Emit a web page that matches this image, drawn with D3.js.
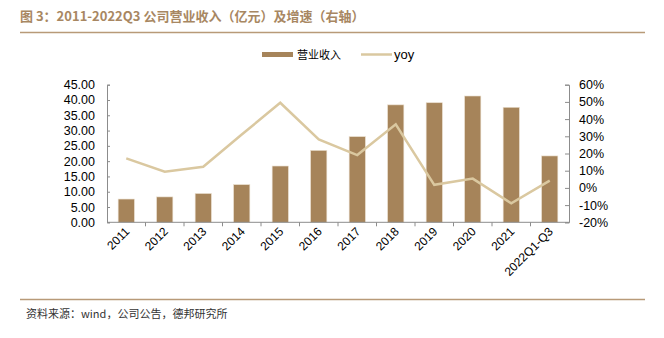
<!DOCTYPE html>
<html><head><meta charset="utf-8">
<script src="https://cdn.jsdelivr.net/npm/d3@7"></script>
<style>body{margin:0;background:#fff}svg{display:block}</style>
</head><body>
<svg id="c" width="664" height="338"></svg>
<script>
const categories = ["2011","2012","2013","2014","2015","2016","2017","2018","2019","2020","2021","2022Q1-Q3"];
const revenue = [7.6, 8.3, 9.4, 12.3, 18.4, 23.5, 28.0, 38.4, 39.1, 41.3, 37.6, 21.7];
const yoy = [17.2, 9.4, 12.3, 31.0, 49.5, 28.2, 19.1, 37.0, 1.8, 5.4, -9.0, 4.2];
const leftTicks = [0,5,10,15,20,25,30,35,40,45];
const rightTicks = [-20,-10,0,10,20,30,40,50,60];

const svg = d3.select("#c");
const font = "'Liberation Sans', Arial, sans-serif";
const cjk = "'Noto Sans CJK SC', sans-serif";
const barColor = "#a6845a", lineColor = "#dac8a0", brown = "#a88762";

// title
svg.append("text").attr("x",20).attr("y",21).attr("font-family",cjk).attr("font-weight","bold")
  .attr("font-size",13).attr("fill",brown).text("图 3：2011-2022Q3 公司营业收入（亿元）及增速（右轴）");
svg.append("line").attr("x1",20).attr("x2",645).attr("y1",32.5).attr("y2",32.5).attr("stroke","#b89a78").attr("stroke-width",1.5);
svg.append("line").attr("x1",20).attr("x2",645).attr("y1",299.5).attr("y2",299.5).attr("stroke","#b89a78").attr("stroke-width",1.5);
svg.append("text").attr("x",26).attr("y",318).attr("font-family",cjk).attr("font-size",11).attr("fill","#333")
  .text("资料来源：wind，公司公告，德邦研究所");

const L = 107, R = 569, T = 84.7, B = 222.3;
const x = d3.scaleBand().domain(categories).range([L,R]).paddingInner(0.58).paddingOuter(0.29);
const xb = d3.scaleBand().domain(categories).range([L,R]);
const yL = d3.scaleLinear().domain([0,45]).range([B,T]);
const yR = d3.scaleLinear().domain([-20,60]).range([B,T]);

// bars
svg.append("g").selectAll("rect").data(revenue).join("rect")
  .attr("x",(d,i)=>x(categories[i])).attr("width",x.bandwidth())
  .attr("y",d=>yL(d)).attr("height",d=>B-yL(d)).attr("fill",barColor)
  .attr("stroke","#e8dccb").attr("stroke-width",0.6);

// axes
const axisColor = "#8c8c8c";
const gl = svg.append("g").attr("transform",`translate(${L},0)`)
  .call(d3.axisRight(yL).tickValues(leftTicks).tickSize(3).tickFormat(""));
gl.selectAll("line,path").attr("stroke",axisColor);
svg.append("g").selectAll("text").data(leftTicks).join("text")
  .attr("x",95).attr("y",d=>yL(d)+4.5).attr("text-anchor","end").attr("font-family",font)
  .attr("font-size",12.5).attr("fill","#000").text(d=>d3.format(".2f")(d));

const gr = svg.append("g").attr("transform",`translate(${R},0)`)
  .call(d3.axisLeft(yR).tickValues(rightTicks).tickSize(4).tickFormat(""));
gr.selectAll("line,path").attr("stroke",axisColor);
svg.append("g").selectAll("text").data(rightTicks).join("text")
  .attr("x",579).attr("y",d=>yR(d)+4.5).attr("text-anchor","start").attr("font-family",font)
  .attr("font-size",12.5).attr("fill","#000").text(d=>d+"%");

// x axis
svg.append("line").attr("x1",L).attr("x2",R).attr("y1",B).attr("y2",B).attr("stroke",axisColor);
svg.append("g").selectAll("line").data(categories.slice(1)).join("line")
  .attr("x1",d=>xb(d)).attr("x2",d=>xb(d)).attr("y1",B).attr("y2",B+4).attr("stroke",axisColor);
svg.append("g").selectAll("text").data(categories).join("text")
  .attr("transform",d=>`translate(${xb(d)+xb.bandwidth()/2+4},${B+10}) rotate(-45)`)
  .attr("text-anchor","end").attr("font-family",font).attr("font-size",12).attr("fill","#000")
  .text(d=>d);

// line
const line = d3.line().x((d,i)=>xb(categories[i])+xb.bandwidth()/2).y(d=>yR(d));
svg.append("path").datum(yoy).attr("d",line).attr("fill","none").attr("stroke",lineColor)
  .attr("stroke-width",2.5).attr("stroke-linejoin","miter");

// legend
svg.append("rect").attr("x",262).attr("y",52).attr("width",31).attr("height",5).attr("fill",barColor);
svg.append("text").attr("x",297).attr("y",59).attr("font-family",cjk).attr("font-size",11).attr("fill","#000").text("营业收入");
svg.append("line").attr("x1",361).attr("x2",392).attr("y1",54.5).attr("y2",54.5).attr("stroke",lineColor).attr("stroke-width",2.5);
svg.append("text").attr("x",394).attr("y",59).attr("font-family",font).attr("font-size",13).attr("fill","#000").text("yoy");
</script>
</body></html>
